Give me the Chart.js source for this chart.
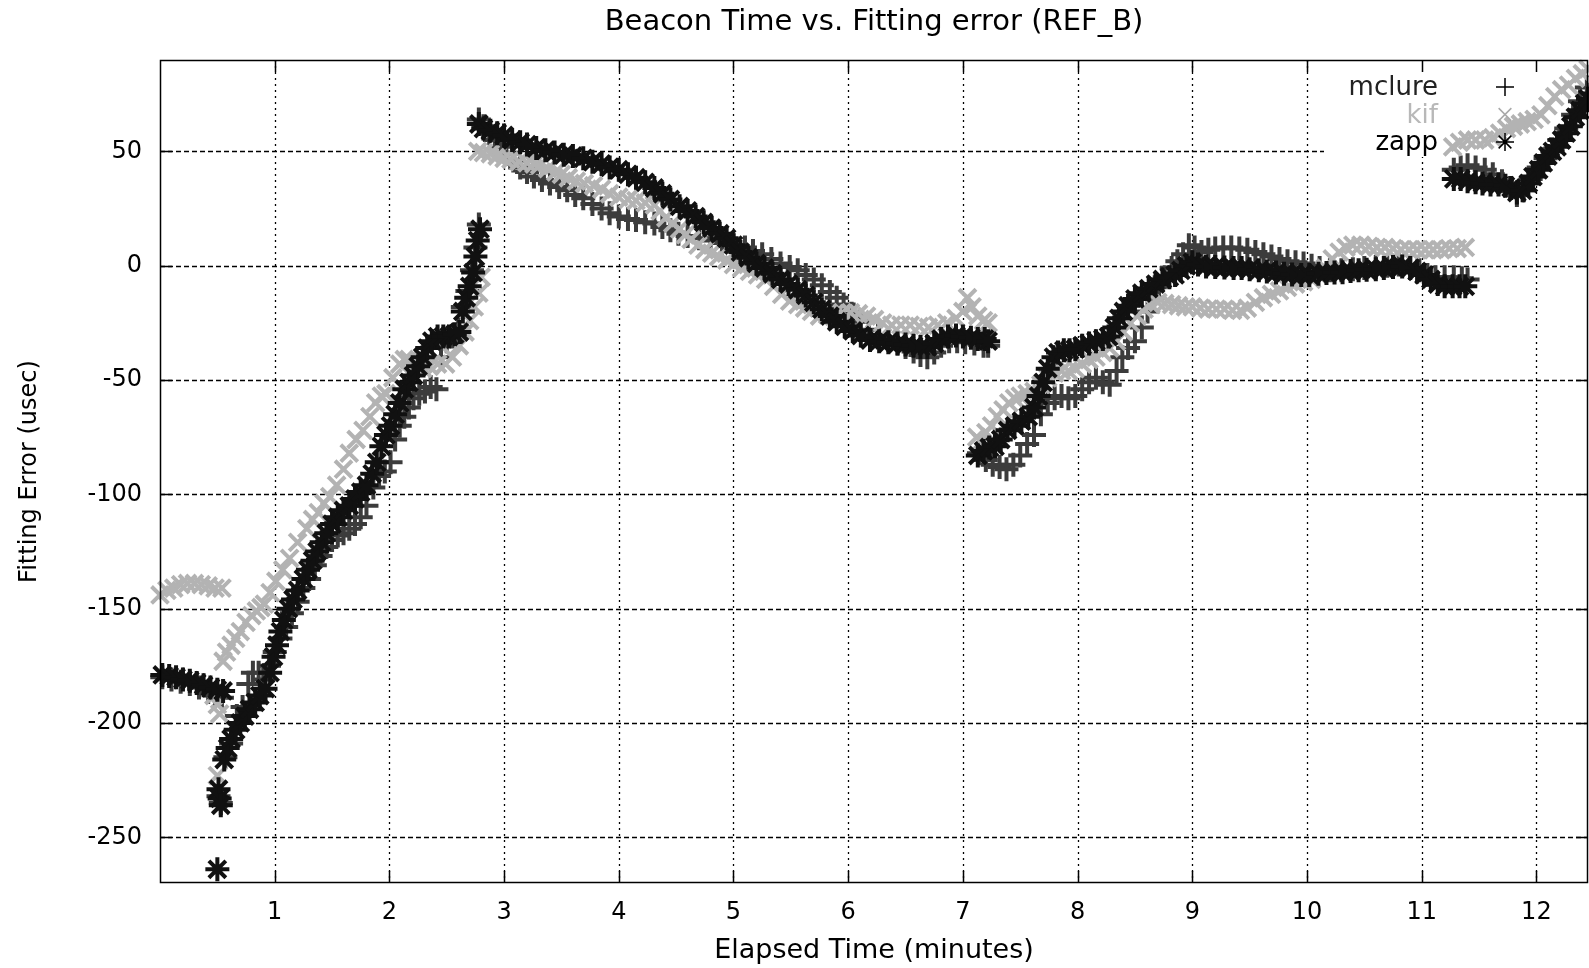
<!DOCTYPE html>
<html><head><meta charset="utf-8">
<script src="https://cdn.jsdelivr.net/npm/chart.js@4.4.1/dist/chart.umd.min.js"></script>
<style>html,body{margin:0;padding:0;background:#fff}canvas{display:block}</style>
</head><body>
<canvas id="c" width="1589" height="968" style="width:1589px;height:968px"></canvas>
<script>
const chartTitle = 'Beacon Time vs. Fitting error (REF_B)';
const xAxisTitle = 'Elapsed Time (minutes)';
const yAxisTitle = 'Fitting Error (usec)';
const xTicks = [1,2,3,4,5,6,7,8,9,10,11,12];
const yTicks = [-250,-200,-150,-100,-50,0,50];
const seriesNames = ['mclure','kif','zapp'];

// [elapsed minutes, fitting error usec]
const mclure = [
[0.02,-180],[0.1,-181],[0.18,-182],[0.26,-183],[0.34,-184.5],[0.42,-186.5],[0.48,-188],[0.54,-189],
[0.51,-232],[0.53,-235],
[0.57,-215],[0.62,-209],[0.67,-197],[0.72,-193],[0.77,-183],[0.81,-178],[0.86,-178],[0.9,-181],[0.95,-175],[1.0,-169],[1.05,-163],[1.1,-158],[1.15,-152],[1.2,-147],[1.25,-141],[1.3,-137],[1.35,-131],[1.4,-127],[1.45,-123],[1.5,-120],[1.55,-118],[1.6,-117],[1.65,-115],[1.7,-113],[1.75,-110],[1.8,-105],[1.86,-97],[1.91,-92],[1.96,-90],[2.01,-86],[2.05,-76],[2.09,-70],[2.13,-66],[2.17,-62],[2.21,-58],[2.26,-56],[2.31,-55],[2.36,-53],[2.41,-54],[2.45,-40],[2.5,-33],[2.55,-31],[2.6,-28],[2.64,-18],[2.68,-11],[2.72,-2],[2.75,8],[2.78,18],
[2.78,64],[2.82,61],[2.87,58],[2.92,55],[2.97,52],[3.02,49],[3.08,46],[3.14,43],[3.2,41],[3.26,39],[3.33,37.5],[3.4,36],[3.48,34.5],[3.55,33],[3.62,31],[3.69,29.5],[3.77,27],[3.85,25],[3.92,23],[4.0,21.5],[4.08,20.5],[4.15,20],[4.23,19],[4.31,18.5],[4.38,17],[4.45,15.5],[4.52,14],[4.6,13],[4.7,12],[4.8,11],[4.9,10],[5.0,9],[5.1,8],[5.17,6.5],[5.25,5],[5.33,3],[5.41,1],[5.49,-0.5],[5.56,-2],[5.63,-4],[5.7,-6],[5.77,-8.5],[5.84,-11.5],[5.9,-14],[5.96,-17],[6.03,-21],[6.1,-24.5],[6.18,-28],[6.26,-30.5],[6.35,-32.5],[6.43,-34],[6.5,-35.5],[6.57,-37.5],[6.63,-39],[6.69,-40],[6.75,-38],[6.81,-35],[6.88,-33],[6.95,-33],[7.02,-33.5],[7.1,-34],[7.18,-35],[7.22,-35],
[7.14,-82],[7.2,-85],[7.26,-87],[7.32,-88],[7.38,-89],[7.44,-87],[7.5,-83],[7.56,-78],[7.62,-74],[7.68,-65],[7.74,-60],[7.8,-58],[7.86,-57],[7.92,-58],[7.98,-57],[8.04,-54],[8.1,-51],[8.16,-49],[8.22,-51],[8.28,-52],[8.34,-46],[8.39,-40],[8.44,-36],[8.5,-33],[8.56,-27],[8.61,-20],[8.66,-14],[8.71,-9],[8.76,-5],[8.82,-1],[8.87,2],[8.92,5],[8.97,9],[9.02,8],[9.08,6],[9.14,7],[9.2,7.5],[9.27,8],[9.34,8],[9.41,7.5],[9.48,7],[9.55,6],[9.62,5],[9.69,4],[9.76,3],[9.83,2],[9.9,1.5],[9.97,1],[10.04,0],[10.11,-1],[10.2,-2],[10.3,-2],[10.4,-1.5],[10.5,-1],[10.6,-0.5],[10.7,0],[10.8,0.5],[10.9,-0.5],[10.98,-2],[11.05,-4],[11.12,-5],[11.2,-5],[11.28,-5],[11.35,-5.5],[11.4,-6],
[11.28,42],[11.34,43],[11.4,44],[11.47,43],[11.55,42],[11.62,40],[11.7,37],[11.77,34],[11.83,31],[11.89,33],[11.95,38],[12.02,43],[12.08,47],[12.14,51],[12.2,55],[12.26,60],[12.32,66],[12.38,72],[12.44,78]
];

const kif = [
[0.0,-144],[0.06,-142],[0.12,-141],[0.18,-139.5],[0.24,-139],[0.3,-139],[0.36,-139.5],[0.42,-140],[0.48,-141],[0.54,-141],
[0.47,-188],[0.5,-192],[0.52,-196],[0.5,-223],
[0.55,-173],[0.58,-169],[0.62,-166],[0.66,-163],[0.7,-160],[0.75,-156],[0.8,-153],[0.84,-151],[0.88,-149.5],[0.91,-148],[0.96,-143],[1.01,-138],[1.07,-133],[1.13,-128],[1.2,-121],[1.28,-115],[1.33,-111],[1.38,-108],[1.43,-104],[1.48,-101],[1.54,-96],[1.6,-89],[1.65,-82],[1.71,-76],[1.77,-72],[1.83,-66],[1.88,-60],[1.93,-57],[1.97,-56],[2.03,-49],[2.09,-43],[2.13,-41],[2.17,-41],[2.23,-44],[2.29,-45],[2.35,-44],[2.42,-43],[2.49,-43],[2.55,-40],[2.61,-35],[2.66,-29],[2.7,-24],[2.74,-18],[2.78,-12],[2.8,-5],
[2.77,50],[2.82,49.5],[2.88,49],[2.94,48],[3.0,47],[3.06,46.5],[3.13,45.5],[3.2,45],[3.26,44.5],[3.31,44],[3.38,42.5],[3.45,41],[3.5,40],[3.56,38.5],[3.63,37],[3.7,36],[3.78,35],[3.85,33.5],[3.92,31.5],[4.0,30],[4.08,29],[4.15,28.5],[4.23,27.5],[4.31,26.5],[4.36,24],[4.41,21],[4.47,18.5],[4.53,16],[4.58,13.5],[4.63,11.5],[4.69,9],[4.75,7],[4.81,5.5],[4.87,4],[4.94,2.5],[5.0,0.5],[5.07,-1],[5.14,-2.5],[5.21,-4],[5.28,-6],[5.35,-9],[5.42,-12.5],[5.49,-15.5],[5.56,-17],[5.62,-18.5],[5.68,-20],[5.75,-22],[5.82,-21.5],[5.88,-21],[5.95,-20.5],[6.02,-20.5],[6.09,-21],[6.16,-22],[6.23,-23.5],[6.3,-25],[6.38,-26],[6.46,-26],[6.54,-26],[6.62,-26.5],[6.7,-27],[6.78,-26],[6.86,-25],[6.94,-23],[7.0,-20],[7.04,-14],[7.08,-18],[7.13,-22],[7.18,-24],[7.22,-25],
[7.12,-75],[7.16,-77],[7.2,-73],[7.25,-70],[7.3,-66],[7.35,-63],[7.4,-60],[7.45,-58],[7.5,-57],[7.56,-56],[7.62,-55],[7.68,-52],[7.74,-49],[7.8,-47],[7.86,-46],[7.92,-46],[7.98,-45],[8.04,-43],[8.1,-41],[8.16,-40],[8.22,-38],[8.28,-36],[8.34,-33],[8.4,-29],[8.46,-25],[8.52,-22],[8.58,-19],[8.64,-17],[8.7,-16],[8.76,-16.5],[8.82,-17],[8.88,-17.5],[8.94,-18],[9.0,-18],[9.07,-18.5],[9.14,-19],[9.21,-19],[9.28,-19],[9.35,-19.5],[9.42,-19.5],[9.48,-18.5],[9.55,-16],[9.62,-14],[9.69,-12.5],[9.76,-11],[9.83,-9.5],[9.9,-8],[9.97,-7],[10.04,-6],[10.1,-4],[10.16,-1],[10.22,3],[10.28,6],[10.34,8],[10.4,9],[10.47,9],[10.54,8.5],[10.61,8],[10.68,8],[10.75,7.5],[10.82,7],[10.89,7],[10.96,7],[11.03,7],[11.1,7],[11.17,7],[11.24,7.5],[11.31,7.5],[11.38,8],
[11.27,52],[11.33,54],[11.4,55],[11.47,55],[11.55,55],[11.62,56],[11.68,58],[11.74,60],[11.8,61],[11.86,62],[11.92,63],[11.98,64],[12.04,66],[12.1,70],[12.16,74],[12.22,77],[12.28,79],[12.34,82],[12.4,84],[12.45,86]
];

const zapp = [
[0.02,-179],[0.08,-179.5],[0.14,-180],[0.2,-181],[0.26,-181.5],[0.32,-182.5],[0.38,-183.5],[0.44,-184.5],[0.5,-185.5],[0.55,-186],
[0.5,-264],[0.51,-229],[0.52,-233],[0.53,-236],
[0.56,-216],[0.59,-211],[0.62,-207],[0.66,-203],[0.7,-200],[0.74,-197],[0.78,-194],[0.83,-191],[0.87,-188],[0.92,-185],[0.96,-178],[0.99,-171],[1.02,-166],[1.05,-160],[1.08,-155],[1.12,-150],[1.16,-146],[1.2,-142],[1.25,-137],[1.29,-133],[1.33,-129],[1.37,-125],[1.41,-121],[1.45,-117],[1.5,-113],[1.55,-110],[1.6,-107],[1.65,-105],[1.7,-102],[1.75,-99],[1.8,-96],[1.85,-91],[1.89,-86],[1.93,-79],[1.97,-74],[2.01,-70],[2.05,-65],[2.09,-60],[2.13,-54],[2.17,-51],[2.21,-48],[2.25,-44],[2.29,-40],[2.33,-36],[2.37,-33],[2.42,-31],[2.47,-31],[2.52,-31],[2.57,-30],[2.61,-29],[2.64,-20],[2.67,-14],[2.7,-9],[2.73,-3],[2.75,4],[2.77,11],[2.79,16],
[2.78,62],[2.82,60],[2.88,59],[2.94,58],[3.0,57],[3.07,55],[3.14,54],[3.2,53],[3.28,51.5],[3.36,50.5],[3.44,49.5],[3.52,48.5],[3.6,48],[3.69,47],[3.77,45.5],[3.85,44.5],[3.92,43],[4.0,42],[4.08,40],[4.15,38.5],[4.23,36.5],[4.31,34],[4.38,31.5],[4.45,29],[4.53,26],[4.6,24],[4.67,21.5],[4.74,19],[4.81,16.5],[4.88,14],[4.94,12],[5.0,9],[5.06,6],[5.13,3.5],[5.2,1],[5.27,-1],[5.34,-3.5],[5.41,-6],[5.48,-8],[5.56,-10.5],[5.63,-13],[5.7,-16],[5.77,-19],[5.84,-22],[5.9,-24.5],[5.97,-26.5],[6.04,-28.5],[6.11,-30.5],[6.19,-32.5],[6.27,-33],[6.35,-33.5],[6.43,-34],[6.5,-34.5],[6.57,-35],[6.63,-35.5],[6.69,-35.5],[6.75,-34],[6.81,-32],[6.87,-31],[6.94,-30.5],[7.0,-31],[7.07,-31.5],[7.13,-32],[7.19,-32],[7.22,-33],
[7.13,-83],[7.18,-81],[7.23,-79.5],[7.28,-79],[7.33,-76],[7.39,-72],[7.45,-70],[7.51,-68],[7.57,-66],[7.62,-62],[7.66,-57],[7.7,-51],[7.74,-45],[7.79,-40],[7.83,-38],[7.88,-37],[7.93,-37],[7.98,-36.5],[8.04,-35],[8.1,-34],[8.16,-33],[8.22,-32],[8.27,-31],[8.32,-27],[8.36,-23],[8.4,-20],[8.44,-17.5],[8.5,-14.5],[8.56,-12],[8.62,-10],[8.68,-8],[8.74,-6],[8.8,-5],[8.85,-4],[8.9,-2],[8.95,0],[9.0,1.5],[9.05,0.5],[9.12,-0.3],[9.2,-0.5],[9.28,-0.8],[9.36,-1],[9.43,-1],[9.5,-1.5],[9.58,-2],[9.65,-2.5],[9.73,-3],[9.8,-3.5],[9.87,-3.8],[9.95,-4],[10.02,-4],[10.1,-3.5],[10.17,-3.2],[10.24,-3],[10.31,-2.8],[10.38,-2.3],[10.45,-2],[10.52,-1.8],[10.6,-1.5],[10.67,-1],[10.75,-0.5],[10.83,-0.3],[10.9,-1],[10.96,-2.5],[11.02,-4],[11.08,-6],[11.14,-8],[11.2,-9],[11.27,-9],[11.33,-9],[11.38,-9],
[11.28,38],[11.34,38],[11.4,37],[11.47,36.5],[11.53,36],[11.6,35.5],[11.67,35.5],[11.73,35],[11.78,34],[11.83,32],[11.88,33],[11.93,36],[11.97,39],[12.02,42],[12.06,45],[12.1,48],[12.14,50],[12.18,52],[12.22,55],[12.26,58],[12.3,61],[12.34,65],[12.38,68],[12.42,71],[12.45,73]
];

const FONT = 'DejaVu Sans';
const seriesColors = ['#3c3c3c', '#b3b3b3', '#111111'];
const seriesStyles = ['cross', 'crossRot', 'star'];
const toXY = arr => arr.map(([x, y]) => ({x, y}));

const gnuplotFrame = {
  id: 'gnuplotFrame',
  beforeDatasetsDraw(chart) {
    const {ctx, chartArea: a, scales: {x, y}} = chart;
    ctx.save();
    ctx.strokeStyle = '#000';
    ctx.lineWidth = 1.3;
    ctx.setLineDash([2, 4]);
    xTicks.forEach(v => {
      const px = Math.round(x.getPixelForValue(v)) + 0.5;
      ctx.beginPath(); ctx.moveTo(px, a.top); ctx.lineTo(px, a.bottom); ctx.stroke();
    });
    ctx.setLineDash([5, 3]);
    yTicks.forEach(v => {
      const py = Math.round(y.getPixelForValue(v)) + 0.5;
      ctx.beginPath(); ctx.moveTo(a.left, py); ctx.lineTo(a.right, py); ctx.stroke();
    });
    ctx.setLineDash([]);
    // opaque key box
    ctx.fillStyle = '#fff';
    ctx.fillRect(a.right - 264, a.top + 1, 263, 96);
    ctx.restore();
  },
  afterDatasetsDraw(chart) {
    const {ctx, chartArea: a, scales: {x, y}} = chart;
    ctx.save();
    ctx.strokeStyle = '#000';
    ctx.lineWidth = 1.5;
    ctx.strokeRect(a.left + 0.5, a.top + 0.5, a.right - a.left - 1, a.bottom - a.top - 1);
    const tl = 12;
    ctx.beginPath();
    xTicks.forEach(v => {
      const px = Math.round(x.getPixelForValue(v)) + 0.5;
      ctx.moveTo(px, a.bottom); ctx.lineTo(px, a.bottom - tl);
      ctx.moveTo(px, a.top); ctx.lineTo(px, a.top + tl);
    });
    yTicks.forEach(v => {
      const py = Math.round(y.getPixelForValue(v)) + 0.5;
      ctx.moveTo(a.left, py); ctx.lineTo(a.left + tl, py);
      ctx.moveTo(a.right, py); ctx.lineTo(a.right - tl, py);
    });
    ctx.stroke();
    // key
    ctx.font = '26px "' + FONT + '"';
    ctx.textAlign = 'right';
    ctx.textBaseline = 'alphabetic';
    const textColors = ['#222222', '#b8b8b8', '#000000'];
    seriesNames.forEach((name, i) => {
      const base = a.top + 35 + i * 27.5;
      ctx.fillStyle = textColors[i];
      ctx.fillText(name, a.right - 150, base);
      ctx.strokeStyle = i === 1 ? '#a8a8a8' : '#000';
      Chart.helpers.drawPoint(ctx, {pointStyle: seriesStyles[i], radius: 9, borderWidth: 1.6}, a.right - 83, base - 8);
    });
    ctx.restore();
  },
  afterDraw(chart) {
    const {ctx, chartArea: a} = chart;
    ctx.save();
    ctx.font = '29px "' + FONT + '"';
    ctx.fillStyle = '#000';
    ctx.textAlign = 'center';
    ctx.textBaseline = 'alphabetic';
    ctx.fillText(chartTitle, (a.left + a.right) / 2, 30);
    ctx.restore();
  }
};

const datasets = [mclure, kif, zapp].map((arr, i) => ({
  label: seriesNames[i],
  data: toXY(arr),
  showLine: false,
  pointStyle: seriesStyles[i],
  pointRadius: 12,
  pointBorderWidth: 4,
  borderColor: seriesColors[i],
  backgroundColor: seriesColors[i],
  order: 3 - i,
  clip: false
}));

new Chart(document.getElementById('c'), {
  type: 'scatter',
  data: {datasets},
  options: {
    responsive: false,
    devicePixelRatio: 1,
    animation: false,
    events: [],
    layout: {autoPadding: false, padding: {left: 0, top: 60, right: 1, bottom: 0}},
    plugins: {legend: {display: false}, tooltip: {enabled: false}, title: {display: false}},
    scales: {
      x: {
        type: 'linear', min: 0, max: 12.45,
        afterBuildTicks: s => { s.ticks = xTicks.map(v => ({value: v})); },
        afterFit: s => { s.height = 85; },
        grid: {display: false, drawTicks: false, tickLength: 0},
        border: {display: false},
        ticks: {font: {family: FONT, size: 24}, color: '#000', padding: 15, maxRotation: 0, autoSkip: false, callback: v => String(v)},
        title: {display: true, text: xAxisTitle, font: {family: FONT, size: 27, lineHeight: 1}, color: '#000', padding: {top: 0, bottom: 4}}
      },
      y: {
        type: 'linear', min: -270, max: 90,
        afterBuildTicks: s => { s.ticks = yTicks.map(v => ({value: v})); },
        afterFit: s => { s.width = 160; },
        grid: {display: false, drawTicks: false, tickLength: 0},
        border: {display: false},
        ticks: {font: {family: FONT, size: 24}, color: '#000', padding: 18, autoSkip: false, callback: v => String(v)},
        title: {display: true, text: yAxisTitle, font: {family: FONT, size: 24, lineHeight: 1}, color: '#000', padding: {top: 18, bottom: 0}}
      }
    }
  },
  plugins: [gnuplotFrame]
});
</script>
</body></html>
